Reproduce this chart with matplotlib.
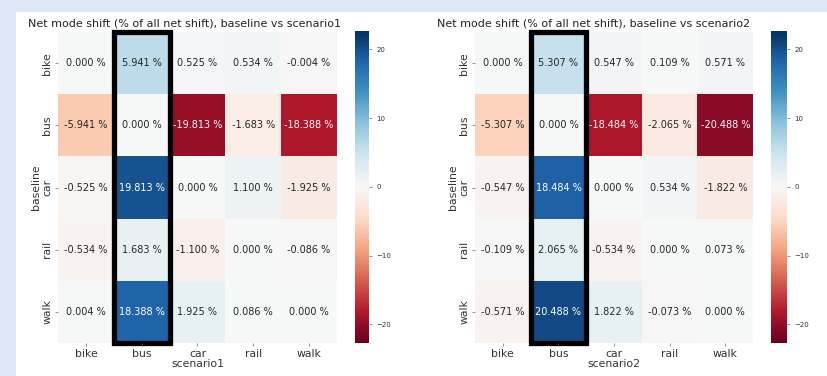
import matplotlib
matplotlib.use("Agg")
import matplotlib.pyplot as plt
import matplotlib.patches as patches
import numpy as np
import seaborn as sns

modes = ["bike", "bus", "car", "rail", "walk"]

# rows = baseline, columns = scenario
shift_s1 = [
    [0.000, 5.941, 0.525, 0.534, -0.004],
    [-5.941, 0.000, -19.813, -1.683, -18.388],
    [-0.525, 19.813, 0.000, 1.100, -1.925],
    [-0.534, 1.683, -1.100, 0.000, -0.086],
    [0.004, 18.388, 1.925, 0.086, 0.000],
]
shift_s2 = [
    [0.000, 5.307, 0.547, 0.109, 0.571],
    [-5.307, 0.000, -18.484, -2.065, -20.488],
    [-0.547, 18.484, 0.000, 0.534, -1.822],
    [-0.109, 2.065, -0.534, 0.000, 0.073],
    [-0.571, 20.488, 1.822, -0.073, 0.000],
]
scenarios = ["scenario1", "scenario2"]
highlight = "bus"
vlim = 22.7

fig = plt.figure(figsize=(8.27, 3.76), dpi=100, facecolor="white")
# light blue frame on the left and top
frame = "#dce8f5"
fig.add_artist(patches.Rectangle((0, 0), 16 / 827, 1, transform=fig.transFigure,
                                 facecolor=frame, edgecolor="none", zorder=-10))
fig.add_artist(patches.Rectangle((0, 1 - 12 / 376), 1, 12 / 376, transform=fig.transFigure,
                                 facecolor=frame, edgecolor="none", zorder=-10))

ax_pos = [[0.0701, 0.0878, 0.3374, 0.827], [0.5744, 0.0878, 0.3362, 0.827]]
cb_pos = [[0.4293, 0.0878, 0.0169, 0.830], [0.9323, 0.0878, 0.0190, 0.830]]
title_x = [0.452, 0.425]
txt = "#333333"

for data, name, ap, cp, tx in zip([shift_s1, shift_s2], scenarios, ax_pos, cb_pos, title_x):
    ax = fig.add_axes(ap)
    cax = fig.add_axes(cp)
    arr = np.array(data)
    labels = np.array([[f"{v:.3f} %" for v in row] for row in arr])
    sns.heatmap(arr, ax=ax, cbar_ax=cax, cmap="RdBu", vmin=-vlim, vmax=vlim,
                annot=labels, fmt="", annot_kws={"size": 7},
                xticklabels=modes, yticklabels=modes)
    ax.set_title(f"Net mode shift (% of all net shift), baseline vs {name}",
                 fontsize=8.0, pad=4, color="#222222", x=tx)
    ax.set_xlabel(name, fontsize=7.8, labelpad=0, color=txt)
    ax.set_ylabel("baseline", fontsize=7.8, labelpad=1, color=txt)
    ax.tick_params(axis="both", labelsize=7.8, length=2, width=0.5,
                   color="#666666", labelcolor=txt, pad=2)
    plt.setp(ax.get_yticklabels(), rotation=90, va="center")
    plt.setp(ax.get_xticklabels(), rotation=0)
    cax.tick_params(labelsize=5, length=2, width=0.5, color="#666666", labelcolor=txt)
    cax.set_yticks([-20, -10, 0, 10, 20])

    col = modes.index(highlight)
    ax.add_patch(patches.Rectangle((col, 0), 1, len(modes), fill=False,
                                   edgecolor="black", linewidth=3.8, clip_on=False))

fig.savefig("out.png", dpi=100, facecolor=fig.get_facecolor())
